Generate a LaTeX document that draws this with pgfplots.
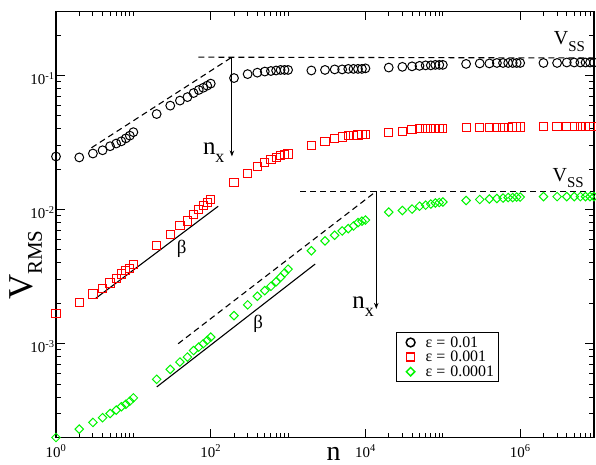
\documentclass[border=0pt]{standalone}
\usepackage{pgfplots}
\pgfplotsset{compat=1.18}
\usepackage{fontspec}
\setmainfont{Liberation Serif}
\usetikzlibrary{arrows.meta}
\definecolor{mygreen}{RGB}{0,245,0}
\begin{document}
\begin{tikzpicture}
\begin{axis}[
  xmode=log, ymode=log,
  scale only axis, width=538bp, height=426bp,
  xmin=1, xmax=9e6, ymin=2e-4, ymax=0.3,
  axis line style={line width=1.2bp},
  tick align=inside, major tick length=9bp, minor tick length=5bp,
  every tick/.style={black, line width=1bp},
  xtick={1,100,10000,1000000},
  xticklabels={10\textsuperscript{0},10\textsuperscript{2},10\textsuperscript{4},10\textsuperscript{6}},
  minor xtick={2,3,4,5,6,7,8,9,10,200,300,400,500,600,700,800,900,1000,20000,30000,40000,50000,60000,70000,80000,90000,100000,2000000,3000000,4000000,5000000,6000000,7000000,8000000},
  ytick={0.001,0.01,0.1},
  yticklabels={10\textsuperscript{-3},10\textsuperscript{-2},10\textsuperscript{-1}},
  minor ytick={0.0003,0.0004,0.0005,0.0006,0.0007,0.0008,0.0009,0.002,0.003,0.004,0.005,0.006,0.007,0.008,0.009,0.02,0.03,0.04,0.05,0.06,0.07,0.08,0.09,0.2},
  ticklabel style={font=\fontsize{15}{15}\selectfont},
  xticklabel style={yshift=-4bp},
  yticklabel style={xshift=2bp, yshift=-3bp},
  clip=false,
  legend cell align=left,
  legend image code/.code={\path[draw=none, fill=none] (0bp,-4bp) rectangle (25bp,4bp); \draw[#1, line width=1.5bp] plot coordinates {(12bp,0bp)};},
  legend style={at={(rel axis cs:0.632,0.248)}, anchor=north west, draw=black, line width=1.2bp,
    font=\fontsize{16}{16}\selectfont, row sep=0.5bp, inner xsep=2bp, inner ysep=3bp,
    nodes={inner xsep=2bp, inner ysep=1bp}},
]
% epsilon = 0.01
\addplot[only marks, mark=o, mark size=4.4bp, black, line width=1bp] coordinates {
(1,0.0249)(2,0.0245)(3,0.0262)(4,0.0277)(5,0.0297)(6,0.0311)(7,0.0323)(8,0.034)(9,0.0356)(10,0.0378)
(20,0.0516)(30,0.0596)(40,0.065)(50,0.069)(60,0.074)(70,0.078)(80,0.081)(90,0.084)(100,0.087)
(200,0.0957)(300,0.1024)(400,0.105)(500,0.107)(600,0.108)(700,0.109)(800,0.110)(900,0.110)(1000,0.110)
(2000,0.109)(3000,0.110)(4000,0.111)(5000,0.111)(6000,0.112)(7000,0.112)(8000,0.112)(9000,0.112)(10000,0.113)
(20000,0.1146)(30000,0.116)(40000,0.117)(50000,0.118)(60000,0.119)(70000,0.119)(80000,0.120)(90000,0.120)(100000,0.120)
(200000,0.122)(300000,0.123)(400000,0.123)(500000,0.124)(600000,0.124)(700000,0.124)(800000,0.124)(900000,0.124)(1000000,0.124)
(2000000,0.124)(3000000,0.124)(4000000,0.125)(5000000,0.125)(6000000,0.125)(7000000,0.125)(8000000,0.125)(9000000,0.125)
};
\addlegendentry{ε\hspace{4bp}=\hspace{5bp}0.01}
% epsilon = 0.001
\addplot[only marks, mark=square, mark size=4.1bp, red, line width=1bp] coordinates {
(1,0.00169)(2,0.00204)(3,0.00235)(4,0.00259)(5,0.00284)(6,0.00308)(7,0.00331)(8,0.0035)(9,0.00365)(10,0.00388)
(20,0.00537)(30,0.00648)(40,0.00757)(50,0.00823)(60,0.00922)(70,0.0100)(80,0.0107)(90,0.0113)(100,0.0119)
(200,0.0160)(300,0.0187)(400,0.0209)(500,0.0225)(600,0.0238)(700,0.0245)(800,0.0252)(900,0.0258)(1000,0.0260)
(2000,0.0299)(3000,0.0320)(4000,0.0340)(5000,0.0348)(6000,0.0355)(7000,0.0358)(8000,0.0360)(9000,0.0362)(10000,0.0363)
(20000,0.0378)(30000,0.0385)(40000,0.0396)(50000,0.0400)(60000,0.0402)(70000,0.0403)(80000,0.0404)(90000,0.0405)(100000,0.0405)
(200000,0.0410)(300000,0.0411)(400000,0.0411)(500000,0.0412)(600000,0.0412)(700000,0.0412)(800000,0.0413)(900000,0.0413)(1000000,0.0413)
(2000000,0.0418)(3000000,0.0418)(4000000,0.0418)(5000000,0.0418)(6000000,0.0418)(7000000,0.0418)(8000000,0.0418)(9000000,0.0418)
};
\addlegendentry{ε\hspace{4bp}=\hspace{5bp}0.001}
% epsilon = 0.0001
\addplot[only marks, mark=square, mark options={rotate=45}, mark size=3bp, mygreen, line width=1bp] coordinates {
(1,0.000200)(2,0.000231)(3,0.000259)(4,0.000281)(5,0.000302)(6,0.000320)(7,0.000339)(8,0.000354)(9,0.000373)(10,0.000395)
(20,0.000543)(30,0.000644)(40,0.000731)(50,0.000796)(60,0.00089)(70,0.000945)(80,0.00100)(90,0.00106)(100,0.00112)
(200,0.00162)(300,0.00195)(400,0.00226)(500,0.00249)(600,0.00268)(700,0.00290)(800,0.00313)(900,0.00337)(1000,0.00360)
(2000,0.00493)(3000,0.00585)(4000,0.00644)(5000,0.00694)(6000,0.00722)(7000,0.00755)(8000,0.00800)(9000,0.00820)(10000,0.00836)
(20000,0.00957)(30000,0.00984)(40000,0.0101)(50000,0.0106)(60000,0.0108)(70000,0.0110)(80000,0.0112)(90000,0.0113)(100000,0.0114)
(200000,0.0117)(300000,0.0119)(400000,0.0120)(500000,0.0121)(600000,0.0122)(700000,0.0123)(800000,0.0123)(900000,0.0124)(1000000,0.0124)
(2000000,0.0125)(3000000,0.0125)(4000000,0.0125)(5000000,0.0125)(6000000,0.0125)(7000000,0.0125)(8000000,0.0125)(9000000,0.0125)
};
\addlegendentry{ε\hspace{4bp}=\hspace{5bp}0.0001}
% guide lines
\addplot[forget plot, black, line width=1.1bp, dash pattern=on 6bp off 4bp] coordinates {(2.87,0.0289)(188,0.137)};
\addplot[forget plot, black, line width=1.1bp, dash pattern=on 6bp off 4bp] coordinates {(69,0.137)(9e6,0.135)};
\addplot[forget plot, black, line width=1bp, -{Stealth[length=6bp,width=4.5bp]}] coordinates {(188,0.137)(188,0.0249)};
\addplot[forget plot, black, line width=1.1bp] coordinates {(3.26,0.00218)(125,0.0106)};
\addplot[forget plot, black, line width=1.1bp, dash pattern=on 6bp off 4bp] coordinates {(37.9,0.001)(13800,0.0137)};
\addplot[forget plot, black, line width=1.1bp, dash pattern=on 6bp off 4bp] coordinates {(1430,0.0137)(9e6,0.0137)};
\addplot[forget plot, black, line width=1bp, -{Stealth[length=6bp,width=4.5bp]}] coordinates {(13800,0.0137)(13800,0.00182)};
\addplot[forget plot, black, line width=1.1bp] coordinates {(20.1,0.000477)(2240,0.00393)};
% annotations
\node[anchor=base west, inner sep=0pt] at (axis cs:2.71e6,0.169) {\fontsize{20}{20}\selectfont V\raisebox{-6.5bp}{\fontsize{15}{15}\selectfont SS}};
\node[anchor=base west, inner sep=0pt] at (axis cs:2.62e6,0.0163) {\fontsize{20}{20}\selectfont V\raisebox{-6.5bp}{\fontsize{15}{15}\selectfont SS}};
\node[anchor=base west, inner sep=0pt] at (axis cs:79,0.0258) {\fontsize{25}{25}\selectfont n\raisebox{-8bp}{\fontsize{18}{18}\selectfont x}};
\node[anchor=base west, inner sep=0pt] at (axis cs:6750,0.00182) {\fontsize{25}{25}\selectfont n\raisebox{-8bp}{\fontsize{18}{18}\selectfont x}};
\node[inner sep=0pt, font=\fontsize{19}{19}\selectfont] at (axis cs:42,0.0051) {β};
\node[inner sep=0pt, font=\fontsize{19}{19}\selectfont] at (axis cs:412,0.00141) {β};
\node[anchor=base, inner sep=0pt, yshift=-23bp, font=\fontsize{28}{28}\selectfont] at (rel axis cs:0.516,0) {n};
\node[rotate=90, anchor=base west, inner sep=0pt] at ([xshift=-23bp]rel axis cs:0,0.3228) {\fontsize{35}{35}\selectfont V\raisebox{-9bp}{\fontsize{21}{21}\selectfont RMS}};
\end{axis}
\pgfresetboundingbox
\path ([xshift=-56bp,yshift=-27.5bp]current axis.south west) rectangle ([xshift=2bp,yshift=11.5bp]current axis.north east);
\end{tikzpicture}
\end{document}
